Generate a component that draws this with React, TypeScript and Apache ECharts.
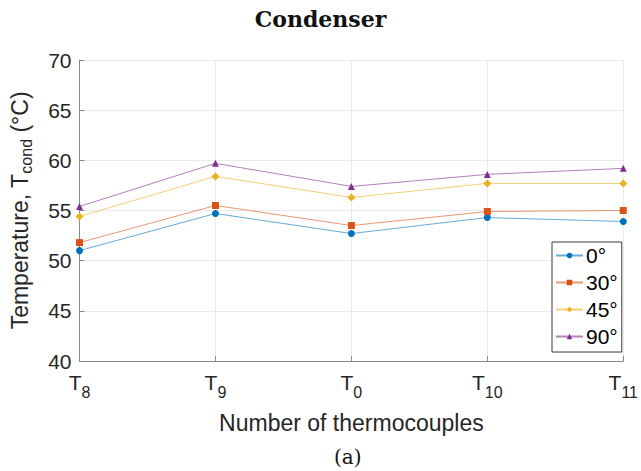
import React, { useEffect, useRef } from "react";
import * as echarts from "echarts";

// Thermocouple positions along the condenser (label = T + subscript)
const positions = ["8", "9", "0", "10", "11"];

// Inclination angles and their measured temperatures (°C)
const angles = ["0°", "30°", "45°", "90°"];
const temp0 = [51.0, 54.7, 52.7, 54.3, 53.9];
const temp30 = [51.8, 55.5, 53.5, 54.9, 55.0];
const temp45 = [54.4, 58.4, 56.3, 57.7, 57.7];
const temp90 = [55.4, 59.7, 57.4, 58.6, 59.2];

const yTicks = { min: 40, max: 70, interval: 5 };

const colors = ["#0072BD", "#D95319", "#EDB120", "#7E2F8E"];
const symbols = ["circle", "rect", "diamond", "triangle"];
const seriesValues = [temp0, temp30, temp45, temp90];

const textColor = "#262626";
const sansFont = "'Liberation Sans', Arial, sans-serif";
const serifFont = "'DejaVu Serif', serif";

export default function App() {
  const ref = useRef<HTMLDivElement>(null);

  useEffect(() => {
    if (!ref.current) return;
    document.body.style.margin = "0";
    const chart = echarts.init(ref.current, undefined, { renderer: "svg" });

    chart.setOption({
      animation: false,
      backgroundColor: "#ffffff",
      title: [
        {
          text: "Condenser",
          left: "center",
          top: 3,
          textStyle: {
            fontFamily: serifFont,
            fontWeight: "bold",
            fontSize: 22,
            color: "#111",
          },
        },
        {
          text: "(a)",
          left: 329,
          top: 442,
          textStyle: {
            fontFamily: serifFont,
            fontWeight: "normal",
            fontSize: 20,
            color: "#111",
          },
        },
      ],
      grid: { left: 76, right: 15, top: 60, bottom: 110, containLabel: false },
      legend: {
        orient: "vertical",
        left: 552,
        top: 242,
        data: angles,
        backgroundColor: "#ffffff",
        borderColor: "#3a3a3a",
        borderWidth: 1,
        borderRadius: 0,
        padding: [3, 4, 5, 3],
        itemGap: 6,
        itemWidth: 27,
        itemHeight: 7,
        textStyle: {
          fontFamily: sansFont,
          fontSize: 21,
          color: "#000",
          padding: [0, 0, 0, -2],
        },
      },
      xAxis: {
        type: "category",
        data: positions,
        boundaryGap: false,
        name: "Number of thermocouples",
        nameLocation: "middle",
        nameGap: 50,
        nameTextStyle: { fontFamily: sansFont, fontSize: 23, color: textColor },
        axisLine: { show: true, lineStyle: { color: "#8a8a8a", width: 1 } },
        axisTick: { show: true, inside: true, length: 5, alignWithLabel: true, lineStyle: { color: "#8a8a8a" } },
        splitLine: { show: true, lineStyle: { color: "#ebebeb", width: 1 } },
        axisLabel: {
          margin: 11,
          formatter: (v: string) => `{t|T}{s|${v}}`,
          rich: {
            t: { fontFamily: sansFont, fontSize: 21, color: textColor, lineHeight: 24, verticalAlign: "top" },
            s: { fontFamily: sansFont, fontSize: 16, color: textColor, lineHeight: 24, padding: [12, 0, 0, 0], verticalAlign: "top" },
          },
        },
      },
      yAxis: {
        type: "value",
        min: yTicks.min,
        max: yTicks.max,
        interval: yTicks.interval,
        name: "Temperature, T{s|cond} (°C)",
        nameLocation: "middle",
        nameRotate: 90,
        nameGap: 45,
        nameTextStyle: {
          fontFamily: sansFont,
          fontSize: 23,
          color: textColor,
          rich: {
            s: { fontFamily: sansFont, fontSize: 16, color: textColor, padding: [14, 0, 0, 0] },
          },
        },
        axisLine: { show: true, lineStyle: { color: "#8a8a8a", width: 1 } },
        axisTick: { show: true, inside: true, length: 5, lineStyle: { color: "#8a8a8a" } },
        splitLine: { show: true, lineStyle: { color: "#ebebeb", width: 1 } },
        axisLabel: { fontFamily: sansFont, fontSize: 21, color: textColor, margin: 8 },
      },
      series: angles.map((name, i) => ({
        name,
        type: "line",
        data: seriesValues[i],
        symbol: symbols[i],
        symbolSize: i === 2 ? 8 : 7,
        showSymbol: true,
        itemStyle: { color: colors[i] },
        lineStyle: { color: colors[i], width: 1, opacity: 0.6 },
      })),
    });

    return () => chart.dispose();
  }, []);

  return <div ref={ref} style={{ width: 641, height: 471 }} />;
}
